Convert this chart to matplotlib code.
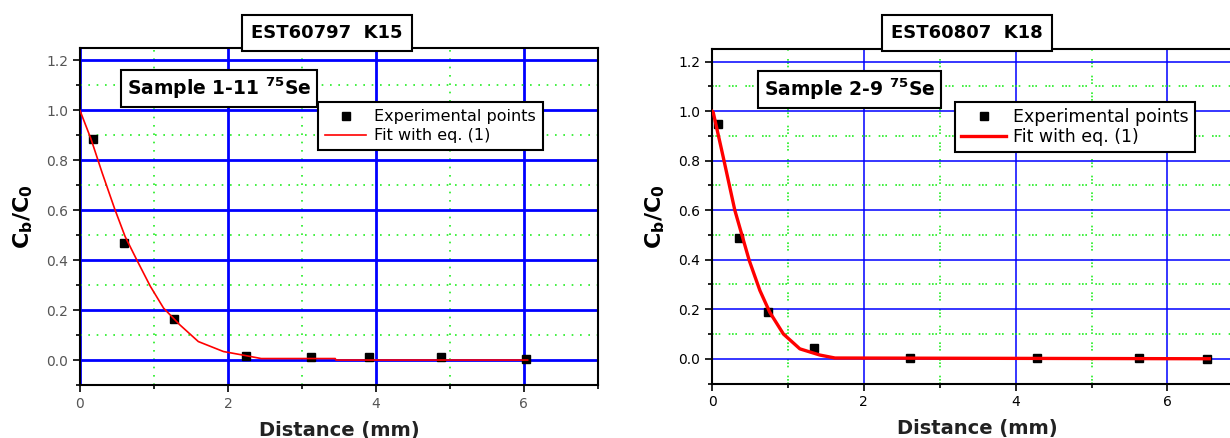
import matplotlib.pyplot as plt

# sample 1-11 (left panel)
dist1 = [0.17, 0.60, 1.27, 2.24, 3.12, 3.90, 4.88, 6.03]
conc1 = [0.884, 0.468, 0.163, 0.018, 0.012, 0.012, 0.012, 0.005]
fit1_x = [0.0, 0.15, 0.30, 0.47, 0.61, 0.77, 0.95, 1.13, 1.35, 1.60, 1.94, 2.20, 2.45, 3.45, 3.46, 6.05]
fit1_y = [1.0, 0.885, 0.75, 0.605, 0.495, 0.40, 0.296, 0.208, 0.141, 0.074, 0.034, 0.020, 0.006, 0.006, 0.0, 0.0]

# sample 2-9 (right panel)
dist2 = [0.08, 0.354, 0.738, 1.344, 2.61, 4.28, 5.62, 6.52]
conc2 = [0.948, 0.486, 0.188, 0.044, 0.004, 0.004, 0.002, 0.0]
fit2_x = [0.0, 0.015, 0.147, 0.30, 0.49, 0.63, 0.76, 0.94, 1.157, 1.42, 1.62, 6.55]
fit2_y = [1.0, 0.996, 0.815, 0.60, 0.397, 0.276, 0.188, 0.10, 0.04, 0.015, 0.003, 0.0]

titles = ['EST60797  K15', 'EST60807  K18']
samples = [r'Sample 1-11 $^{\mathbf{75}}$Se', r'Sample 2-9 $^{\mathbf{75}}$Se']

fig = plt.figure(figsize=(12.3, 4.38), dpi=100)
ax1 = fig.add_axes([0.065, 0.121, 0.4211, 0.7694])
ax2 = fig.add_axes([0.5789, 0.1244, 0.432, 0.763])

panels = [
    (ax1, dist1, conc1, fit1_x, fit1_y, 2.0, 1.2, (0, (1, 4)), '#555555'),
    (ax2, dist2, conc2, fit2_x, fit2_y, 1.1, 2.4, (0, (1, 1, 1, 1, 1, 5)), 'black'),
]

for i, (ax, dx, dy, fx, fy, glw, flw, gls, tcol) in enumerate(panels):
    ax.set_xlim(0, 7)
    ax.set_ylim(-0.1, 1.25)
    ax.set_xticks([0, 2, 4, 6])
    ax.set_xticks([1, 3, 5, 7], minor=True)
    ax.set_yticks([0.0, 0.2, 0.4, 0.6, 0.8, 1.0, 1.2])
    ax.set_yticks([-0.1, 0.1, 0.3, 0.5, 0.7, 0.9, 1.1], minor=True)
    ax.set_yticklabels(['0.0', '0.2', '0.4', '0.6', '0.8', '1.0', '1.2'])
    ax.grid(which='major', color='#0000ff', lw=glw)
    ax.grid(which='minor', color='#22ee22', lw=1.2, linestyle=gls)
    ax.set_axisbelow(True)
    for s in ax.spines.values():
        s.set_color('black')
        s.set_linewidth(1.5)
    ax.tick_params(which='both', direction='out', colors='black', labelcolor=tcol,
                   labelsize=10, width=1.2)
    ax.tick_params(which='major', length=5)
    ax.tick_params(which='minor', length=3)

    ax.plot(dx, dy, 's', color='black', ms=6, label='Experimental points', zorder=3)
    ax.plot(fx, fy, '-', color='#ff0000', lw=flw, label='Fit with eq. (1)', zorder=4)

    ax.set_ylabel(r'$\mathbf{C_b/C_0}$', fontsize=16, labelpad=8)
    ax.set_xlabel('Distance (mm)', fontsize=14, fontweight='bold', labelpad=7,
                  color='#222222')

    if i == 0:
        leg = ax.legend(loc='upper left', bbox_to_anchor=(0.459, 0.840),
                        fancybox=False, edgecolor='black', framealpha=1,
                        fontsize=11.5, handlelength=2.6, borderpad=0.45,
                        labelspacing=0.25, handletextpad=0.5, borderaxespad=0)
    else:
        leg = ax.legend(loc='upper left', bbox_to_anchor=(0.457, 0.842),
                        fancybox=False, edgecolor='black', framealpha=1,
                        fontsize=12.5, handlelength=2.6, borderpad=0.35,
                        labelspacing=0.12, handletextpad=0.4, borderaxespad=0)
    leg.get_frame().set_linewidth(1.5)

    ax.text(0.09 if i == 0 else 0.098, 0.88, samples[i], transform=ax.transAxes,
            fontsize=13.5, fontweight='bold', va='center',
            ha='left', bbox=dict(boxstyle='square,pad=0.3', facecolor='white',
                                 edgecolor='black', lw=1.5), zorder=5)

fig.text(0.266, 0.925, titles[0], fontsize=13, fontweight='bold', ha='center',
         va='center', bbox=dict(boxstyle='square,pad=0.5', facecolor='white',
                                edgecolor='black', lw=1.5))
fig.text(0.786, 0.925, titles[1], fontsize=13, fontweight='bold', ha='center',
         va='center', bbox=dict(boxstyle='square,pad=0.5', facecolor='white',
                                edgecolor='black', lw=1.5))

fig.savefig('out.png', dpi=100)
